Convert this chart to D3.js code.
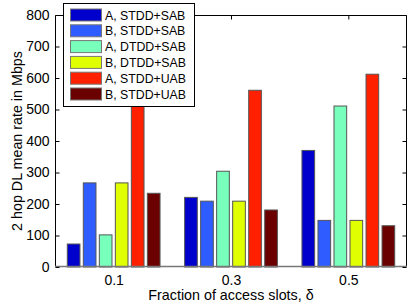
<!DOCTYPE html>
<html><head><meta charset="utf-8">
<script src="https://cdn.jsdelivr.net/npm/d3@7"></script>
<style>body{margin:0;background:#fff}svg{display:block;font-family:"Liberation Sans",Arial,sans-serif}</style>
</head><body><svg id="c" width="415" height="307"></svg>
<script>
const categories = [0.1, 0.3, 0.5];
const tickLabels = ["0.1", "0.3", "0.5"];
const seriesNames = ["A, STDD+SAB", "B, STDD+SAB", "A, DTDD+SAB", "B, DTDD+SAB", "A, STDD+UAB", "B, STDD+UAB"];
const seriesColors = ["#0000cc", "#2f5cff", "#77ffbb", "#e0ff00", "#ff2000", "#6b0000"];
const values = [
  [73, 221, 370],
  [267, 209, 148],
  [102, 304, 511],
  [267, 209, 148],
  [511, 561, 612],
  [234, 181, 131]
];
const yTicks = [0, 100, 200, 300, 400, 500, 600, 700, 800];

const svg = d3.select("#c");
const L = 55, R = 407, T = 15, B = 267;
const x = d3.scaleLinear().domain([0, 0.6]).range([L, R]);
const y = d3.scaleLinear().domain([0, 800]).range([B, T]);
const step = 0.0273, bw = 0.0216;

// bars
values.forEach((s, si) => {
  svg.append("g").selectAll("rect").data(s).join("rect")
    .attr("x", (d, i) => x(categories[i] + (si - 2.5) * step - bw / 2))
    .attr("y", d => y(d))
    .attr("width", x(bw) - x(0))
    .attr("height", d => y(0) - y(d))
    .attr("fill", seriesColors[si])
    .attr("stroke", "#555").attr("stroke-width", 1);
});

// axes box
const ax = svg.append("g").attr("fill", "none").attr("stroke", "#000").attr("stroke-width", 1);
ax.append("path").attr("d", `M${L+0.5},${B}V${T+0.5}H${R-0.5}V${B}`);
svg.append("line").attr("x1", L).attr("x2", R).attr("y1", B - 0.5).attr("y2", B - 0.5).attr("stroke", "#777").attr("stroke-width", 1.5);

const yAxis = d3.axisLeft(y).tickValues(yTicks).tickSize(-4).tickPadding(6).tickFormat(d3.format("d"));
const gy = svg.append("g").attr("transform", `translate(${L + 0.5},0)`).call(yAxis);
gy.select(".domain").remove();
gy.selectAll("text").attr("font-size", 14).attr("fill", "#000").attr("font-family", "Liberation Sans, Arial, sans-serif");
const gyr = svg.append("g").attr("transform", `translate(${R - 0.5},0)`).call(d3.axisRight(y).tickValues(yTicks).tickSize(-4).tickFormat(""));
gyr.select(".domain").remove();

const xAxis = d3.axisBottom(x).tickValues(categories).tickFormat((d, i) => tickLabels[i]).tickSize(0).tickPadding(8);
const gx = svg.append("g").attr("transform", `translate(0,${B})`).call(xAxis);
gx.select(".domain").remove();
gx.selectAll("text").attr("font-size", 14).attr("fill", "#000").attr("font-family", "Liberation Sans, Arial, sans-serif");
const gxt = svg.append("g").attr("transform", `translate(0,${T + 0.5})`).call(d3.axisTop(x).tickValues(categories).tickSize(-4).tickFormat(""));
gxt.select(".domain").remove();

// labels
svg.append("text").attr("x", x(0.3)).attr("y", 300).attr("text-anchor", "middle").attr("font-size", 14.3)
  .text("Fraction of access slots, δ");
svg.append("text").attr("transform", `translate(22,${(T + B) / 2}) rotate(-90)`).attr("text-anchor", "middle").attr("font-size", 14.3)
  .text("2 hop DL mean rate in Mbps");

// legend
const lg = svg.append("g");
lg.append("rect").attr("x", 63.5).attr("y", 3.5).attr("width", 131).attr("height", 103)
  .attr("fill", "#fff").attr("stroke", "#000").attr("stroke-width", 1);
seriesNames.forEach((n, i) => {
  const cy = 15 + i * 15.8;
  lg.append("rect").attr("x", 70.5).attr("y", cy - 6).attr("width", 31).attr("height", 12)
    .attr("fill", seriesColors[i]).attr("stroke", "#777");
  lg.append("text").attr("x", 105).attr("y", cy + 4.5).attr("font-size", 12.3).text(n);
});
</script></body></html>
